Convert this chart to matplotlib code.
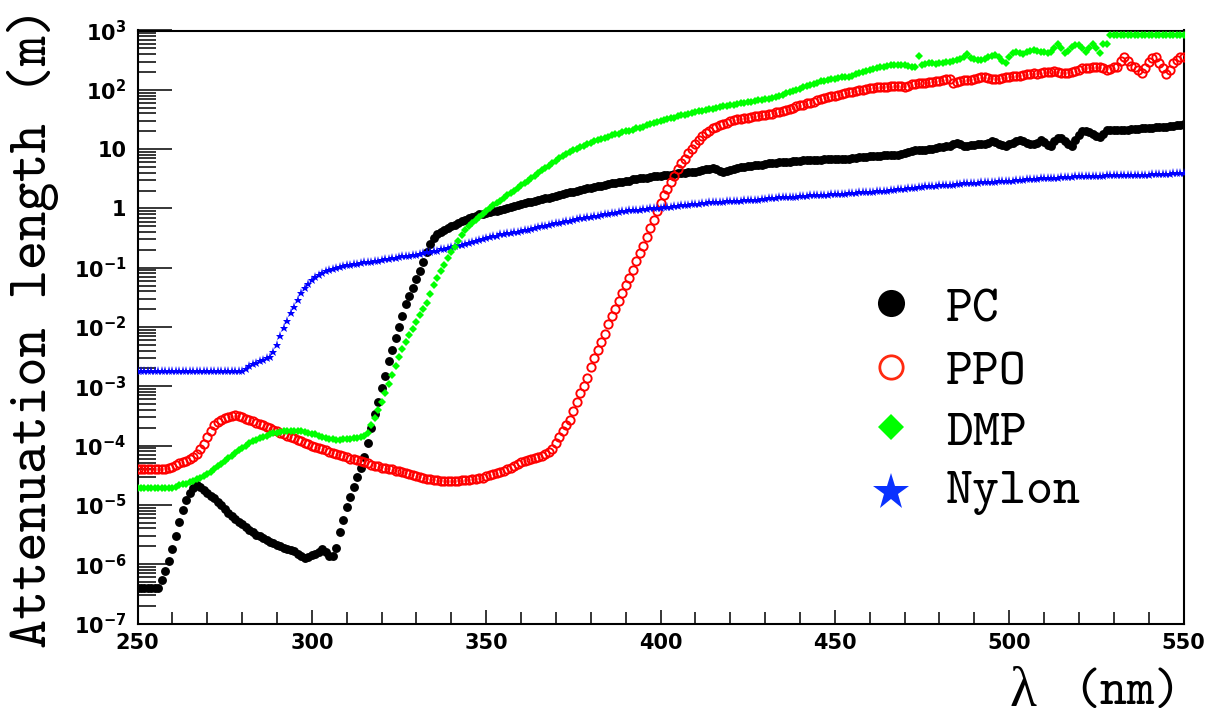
import numpy as np
import matplotlib
matplotlib.use("Agg")
import matplotlib.pyplot as plt
from matplotlib.lines import Line2D
from matplotlib.ticker import MultipleLocator, LogLocator, NullFormatter

# ---------------- data ----------------
WAVELENGTH_NM = list(range(250, 551))

# log10 of attenuation length in metres, one value per nm (250..550)
PC_LOG10 = [
    -6.40, -6.40, -6.40, -6.40, -6.40, -6.40, -6.40, -6.27, -6.12, -5.95,  # 250
    -5.75, -5.52, -5.29, -5.08, -4.92, -4.80, -4.71, -4.67, -4.70, -4.75,  # 260
    -4.80, -4.85, -4.89, -4.95, -5.01, -5.07, -5.13, -5.18, -5.23, -5.28,  # 270
    -5.33, -5.38, -5.42, -5.46, -5.50, -5.53, -5.56, -5.59, -5.62, -5.65,  # 280
    -5.68, -5.70, -5.72, -5.74, -5.76, -5.78, -5.82, -5.87, -5.89, -5.88,  # 290
    -5.85, -5.83, -5.80, -5.75, -5.80, -5.87, -5.86, -5.72, -5.45, -5.25,  # 300
    -5.03, -4.86, -4.69, -4.53, -4.38, -4.20, -3.95, -3.70, -3.47, -3.26,  # 310
    -3.03, -2.82, -2.58, -2.38, -2.18, -2.00, -1.82, -1.62, -1.47, -1.34,  # 320
    -1.19, -1.05, -0.90, -0.73, -0.60, -0.50, -0.44, -0.40, -0.37, -0.33,  # 330
    -0.30, -0.28, -0.25, -0.22, -0.19, -0.17, -0.14, -0.12, -0.10, -0.09,  # 340
    -0.07, -0.06, -0.05, -0.04, -0.03, -0.01, 0.01, 0.03, 0.04, 0.06,      # 350
    0.07, 0.09, 0.10, 0.11, 0.13, 0.14, 0.16, 0.17, 0.18, 0.19,            # 360
    0.21, 0.23, 0.24, 0.26, 0.27, 0.28, 0.30, 0.31, 0.32, 0.34,            # 370
    0.35, 0.36, 0.37, 0.38, 0.40, 0.41, 0.42, 0.43, 0.44, 0.45,            # 380
    0.46, 0.47, 0.49, 0.50, 0.51, 0.52, 0.52, 0.53, 0.54, 0.55,            # 390
    0.55, 0.56, 0.57, 0.57, 0.58, 0.59, 0.59, 0.60, 0.61, 0.62,            # 400
    0.62, 0.63, 0.64, 0.66, 0.67, 0.68, 0.66, 0.63, 0.62, 0.63,            # 410
    0.65, 0.67, 0.68, 0.69, 0.70, 0.71, 0.72, 0.73, 0.74, 0.74,            # 420
    0.75, 0.76, 0.76, 0.77, 0.78, 0.78, 0.79, 0.79, 0.80, 0.80,            # 430
    0.80, 0.81, 0.81, 0.81, 0.82, 0.82, 0.82, 0.83, 0.83, 0.83,            # 440
    0.83, 0.84, 0.84, 0.84, 0.84, 0.85, 0.85, 0.86, 0.86, 0.87,            # 450
    0.88, 0.88, 0.89, 0.89, 0.90, 0.90, 0.90, 0.90, 0.90, 0.91,            # 460
    0.93, 0.95, 0.97, 0.98, 0.98, 0.99, 0.99, 1.00, 1.01, 1.02,            # 470
    1.03, 1.04, 1.05, 1.05, 1.08, 1.10, 1.08, 1.06, 1.06, 1.07,            # 480
    1.07, 1.08, 1.08, 1.09, 1.11, 1.14, 1.12, 1.09, 1.07, 1.06,            # 490
    1.08, 1.11, 1.14, 1.15, 1.13, 1.11, 1.09, 1.08, 1.11, 1.15,            # 500
    1.12, 1.07, 1.06, 1.14, 1.19, 1.18, 1.14, 1.08, 1.05, 1.15,            # 510
    1.23, 1.30, 1.31, 1.28, 1.25, 1.22, 1.20, 1.26, 1.32, 1.32,            # 520
    1.32, 1.32, 1.33, 1.33, 1.33, 1.34, 1.34, 1.34, 1.35, 1.35,            # 530
    1.36, 1.36, 1.37, 1.37, 1.38, 1.38, 1.39, 1.39, 1.40, 1.41,            # 540
    1.42,                                                                  # 550
]

PPO_LOG10 = [
    -4.40, -4.40, -4.40, -4.40, -4.40, -4.40, -4.40, -4.40, -4.40, -4.38,  # 250
    -4.36, -4.33, -4.30, -4.28, -4.26, -4.23, -4.20, -4.15, -4.06, -3.97,  # 260
    -3.86, -3.75, -3.66, -3.60, -3.56, -3.53, -3.51, -3.50, -3.49, -3.50,  # 270
    -3.52, -3.55, -3.57, -3.59, -3.62, -3.64, -3.66, -3.69, -3.71, -3.73,  # 280
    -3.76, -3.78, -3.80, -3.83, -3.85, -3.87, -3.90, -3.92, -3.95, -3.97,  # 290
    -4.00, -4.02, -4.04, -4.06, -4.08, -4.10, -4.12, -4.14, -4.16, -4.18,  # 300
    -4.20, -4.22, -4.23, -4.25, -4.26, -4.28, -4.30, -4.32, -4.34, -4.35,  # 310
    -4.37, -4.38, -4.39, -4.40, -4.42, -4.43, -4.44, -4.46, -4.48, -4.50,  # 320
    -4.52, -4.53, -4.54, -4.56, -4.57, -4.58, -4.58, -4.59, -4.59, -4.59,  # 330
    -4.59, -4.59, -4.59, -4.58, -4.58, -4.58, -4.57, -4.56, -4.55, -4.54,  # 340
    -4.52, -4.50, -4.48, -4.46, -4.44, -4.42, -4.40, -4.37, -4.34, -4.31,  # 350
    -4.28, -4.26, -4.25, -4.23, -4.21, -4.19, -4.17, -4.15, -4.11, -4.05,  # 360
    -3.95, -3.86, -3.76, -3.66, -3.56, -3.42, -3.26, -3.12, -3.00, -2.86,  # 370
    -2.68, -2.53, -2.38, -2.26, -2.11, -1.95, -1.81, -1.69, -1.56, -1.43,  # 380
    -1.29, -1.17, -1.04, -0.89, -0.75, -0.63, -0.48, -0.33, -0.19, -0.05,  # 390
    0.09, 0.22, 0.33, 0.44, 0.55, 0.67, 0.76, 0.84, 0.93, 1.01,            # 400
    1.08, 1.15, 1.22, 1.27, 1.31, 1.35, 1.38, 1.40, 1.42, 1.44,            # 410
    1.47, 1.49, 1.50, 1.51, 1.52, 1.53, 1.54, 1.55, 1.56, 1.57,            # 420
    1.58, 1.59, 1.60, 1.62, 1.63, 1.64, 1.66, 1.68, 1.70, 1.72,            # 430
    1.74, 1.75, 1.77, 1.78, 1.80, 1.82, 1.84, 1.86, 1.88, 1.89,            # 440
    1.90, 1.92, 1.93, 1.95, 1.96, 1.97, 1.98, 1.99, 2.00, 2.02,            # 450
    2.03, 2.03, 2.04, 2.05, 2.05, 2.05, 2.06, 2.06, 2.06, 2.07,            # 460
    2.05, 2.07, 2.09, 2.10, 2.11, 2.12, 2.12, 2.13, 2.13, 2.14,            # 470
    2.15, 2.16, 2.18, 2.19, 2.11, 2.13, 2.15, 2.16, 2.16, 2.17,            # 480
    2.18, 2.20, 2.22, 2.21, 2.20, 2.19, 2.19, 2.19, 2.20, 2.21,            # 490
    2.22, 2.23, 2.23, 2.24, 2.25, 2.26, 2.27, 2.28, 2.27, 2.29,            # 500
    2.30, 2.30, 2.30, 2.31, 2.30, 2.29, 2.28, 2.28, 2.30, 2.32,            # 510
    2.34, 2.36, 2.36, 2.37, 2.38, 2.38, 2.39, 2.36, 2.33, 2.35,            # 520
    2.38, 2.39, 2.48, 2.56, 2.48, 2.40, 2.38, 2.33, 2.29, 2.36,            # 530
    2.47, 2.53, 2.56, 2.45, 2.36, 2.27, 2.34, 2.45, 2.51, 2.55,            # 540
    2.55,                                                                  # 550
]

DMP_LOG10 = [
    -4.71, -4.71, -4.71, -4.71, -4.71, -4.71, -4.71, -4.71, -4.71, -4.71,  # 250
    -4.71, -4.70, -4.67, -4.65, -4.64, -4.62, -4.60, -4.57, -4.55, -4.52,  # 260
    -4.48, -4.44, -4.40, -4.35, -4.31, -4.26, -4.21, -4.17, -4.13, -4.08,  # 270
    -4.04, -4.00, -3.96, -3.93, -3.90, -3.87, -3.85, -3.83, -3.81, -3.79,  # 280
    -3.78, -3.77, -3.76, -3.76, -3.75, -3.75, -3.75, -3.76, -3.77, -3.78,  # 290
    -3.80, -3.81, -3.83, -3.85, -3.87, -3.89, -3.89, -3.90, -3.90, -3.89,  # 300
    -3.89, -3.89, -3.88, -3.87, -3.86, -3.84, -3.78, -3.66, -3.53, -3.40,  # 310
    -3.27, -3.12, -2.96, -2.81, -2.66, -2.50, -2.37, -2.26, -2.14, -2.03,  # 320
    -1.92, -1.80, -1.69, -1.59, -1.44, -1.30, -1.17, -1.06, -0.95, -0.84,  # 330
    -0.74, -0.65, -0.55, -0.45, -0.37, -0.30, -0.24, -0.19, -0.14, -0.09,  # 340
    -0.05, 0.00, 0.05, 0.09, 0.13, 0.17, 0.22, 0.26, 0.30, 0.35,           # 350
    0.39, 0.43, 0.47, 0.51, 0.55, 0.59, 0.64, 0.68, 0.72, 0.76,            # 360
    0.80, 0.85, 0.89, 0.92, 0.95, 0.98, 1.01, 1.04, 1.06, 1.08,            # 370
    1.11, 1.13, 1.15, 1.17, 1.19, 1.21, 1.23, 1.25, 1.26, 1.28,            # 380
    1.30, 1.31, 1.33, 1.35, 1.36, 1.38, 1.40, 1.42, 1.44, 1.46,            # 390
    1.47, 1.49, 1.50, 1.52, 1.53, 1.55, 1.57, 1.58, 1.60, 1.61,            # 400
    1.63, 1.64, 1.65, 1.66, 1.67, 1.68, 1.70, 1.71, 1.72, 1.73,            # 410
    1.74, 1.75, 1.76, 1.77, 1.78, 1.79, 1.80, 1.81, 1.82, 1.83,            # 420
    1.84, 1.85, 1.87, 1.88, 1.90, 1.92, 1.94, 1.96, 1.98, 2.00,            # 430
    2.02, 2.04, 2.06, 2.08, 2.10, 2.12, 2.14, 2.15, 2.17, 2.18,            # 440
    2.19, 2.20, 2.21, 2.21, 2.22, 2.24, 2.26, 2.28, 2.30, 2.32,            # 450
    2.34, 2.35, 2.36, 2.38, 2.39, 2.40, 2.41, 2.41, 2.42, 2.42,            # 460
    2.41, 2.40, 2.39, 2.39, 2.57, 2.42, 2.44, 2.45, 2.45, 2.44,            # 470
    2.45, 2.46, 2.47, 2.47, 2.48, 2.50, 2.52, 2.55, 2.60, 2.54,            # 480
    2.52, 2.51, 2.50, 2.52, 2.55, 2.57, 2.59, 2.55, 2.48, 2.45,            # 490
    2.55, 2.62, 2.64, 2.62, 2.60, 2.63, 2.66, 2.67, 2.65, 2.64,            # 500
    2.63, 2.62, 2.64, 2.70, 2.78, 2.70, 2.62, 2.66, 2.72, 2.75,            # 510
    2.75, 2.70, 2.64, 2.70, 2.78, 2.70, 2.62, 2.78, 2.78, 2.92,            # 520
    2.93, 2.93, 2.93, 2.93, 2.93, 2.93, 2.93, 2.93, 2.93, 2.93,            # 530
    2.93, 2.93, 2.93, 2.93, 2.93, 2.93, 2.93, 2.93, 2.93, 2.93,            # 540
    2.93,                                                                  # 550
]

NYLON_LOG10 = [
    -2.74, -2.74, -2.74, -2.74, -2.74, -2.74, -2.74, -2.74, -2.74, -2.74,  # 250
    -2.74, -2.74, -2.74, -2.74, -2.74, -2.74, -2.74, -2.74, -2.74, -2.74,  # 260
    -2.74, -2.74, -2.74, -2.74, -2.74, -2.74, -2.74, -2.74, -2.74, -2.74,  # 270
    -2.74, -2.71, -2.66, -2.63, -2.60, -2.57, -2.55, -2.52, -2.50, -2.42,  # 280
    -2.30, -2.15, -2.02, -1.90, -1.77, -1.66, -1.54, -1.43, -1.35, -1.27,  # 290
    -1.21, -1.16, -1.12, -1.09, -1.06, -1.04, -1.02, -1.00, -0.99, -0.97,  # 300
    -0.96, -0.95, -0.94, -0.93, -0.92, -0.91, -0.91, -0.90, -0.89, -0.88,  # 310
    -0.87, -0.86, -0.85, -0.84, -0.83, -0.82, -0.81, -0.80, -0.80, -0.79,  # 320
    -0.78, -0.77, -0.76, -0.74, -0.73, -0.72, -0.71, -0.69, -0.68, -0.66,  # 330
    -0.65, -0.64, -0.62, -0.61, -0.60, -0.58, -0.56, -0.55, -0.53, -0.51,  # 340
    -0.50, -0.49, -0.47, -0.46, -0.44, -0.43, -0.42, -0.41, -0.40, -0.39,  # 350
    -0.38, -0.37, -0.36, -0.35, -0.33, -0.32, -0.30, -0.29, -0.28, -0.27,  # 360
    -0.25, -0.24, -0.23, -0.22, -0.21, -0.19, -0.18, -0.17, -0.16, -0.15,  # 370
    -0.14, -0.13, -0.12, -0.11, -0.10, -0.09, -0.08, -0.07, -0.06, -0.05,  # 380
    -0.04, -0.03, -0.03, -0.02, -0.02, -0.01, -0.01, 0.00, 0.00, 0.01,     # 390
    0.01, 0.02, 0.03, 0.03, 0.04, 0.04, 0.05, 0.06, 0.06, 0.07,            # 400
    0.08, 0.08, 0.09, 0.09, 0.10, 0.10, 0.10, 0.11, 0.11, 0.12,            # 410
    0.12, 0.13, 0.13, 0.13, 0.14, 0.14, 0.15, 0.15, 0.15, 0.16,            # 420
    0.16, 0.17, 0.17, 0.18, 0.19, 0.19, 0.19, 0.20, 0.20, 0.20,            # 430
    0.21, 0.21, 0.21, 0.22, 0.22, 0.22, 0.23, 0.23, 0.23, 0.24,            # 440
    0.24, 0.25, 0.25, 0.25, 0.26, 0.26, 0.26, 0.27, 0.27, 0.28,            # 450
    0.28, 0.28, 0.29, 0.29, 0.30, 0.30, 0.31, 0.31, 0.32, 0.32,            # 460
    0.33, 0.34, 0.34, 0.35, 0.36, 0.36, 0.37, 0.37, 0.38, 0.38,            # 470
    0.39, 0.39, 0.40, 0.40, 0.40, 0.41, 0.41, 0.42, 0.42, 0.42,            # 480
    0.43, 0.43, 0.44, 0.44, 0.44, 0.45, 0.45, 0.46, 0.46, 0.46,            # 490
    0.47, 0.47, 0.48, 0.48, 0.48, 0.49, 0.49, 0.50, 0.50, 0.51,            # 500
    0.51, 0.52, 0.52, 0.52, 0.52, 0.53, 0.53, 0.53, 0.53, 0.54,            # 510
    0.54, 0.54, 0.54, 0.55, 0.55, 0.55, 0.55, 0.55, 0.56, 0.56,            # 520
    0.56, 0.56, 0.56, 0.56, 0.57, 0.57, 0.57, 0.57, 0.57, 0.57,            # 530
    0.57, 0.58, 0.58, 0.58, 0.58, 0.58, 0.58, 0.59, 0.59, 0.59,            # 540
    0.59,                                                                  # 550
]

SERIES_NAMES = ["PC", "PPO", "DMP", "Nylon"]
X_TICKS = [250, 300, 350, 400, 450, 500, 550]
Y_TICK_EXPONENTS = [-7, -6, -5, -4, -3, -2, -1, 0, 1, 2, 3]

for arr in (PC_LOG10, PPO_LOG10, DMP_LOG10, NYLON_LOG10):
    assert len(arr) == len(WAVELENGTH_NM), len(arr)

# ---------------- figure ----------------
plt.rcParams["mathtext.fontset"] = "dejavusans"
plt.rcParams["mathtext.default"] = "bf"

TITLE_FONT = ["cmtt10", "Liberation Mono", "DejaVu Sans Mono"]

W, H = 1209, 724
fig = plt.figure(figsize=(W / 100, H / 100), dpi=100)
fig.patch.set_facecolor("white")

ax_l, ax_r, ax_t, ax_b = 137.5, 1183.5, 30.5, 623.5
ax = fig.add_axes([ax_l / W, 1 - ax_b / H, (ax_r - ax_l) / W, (ax_b - ax_t) / H])

lam = np.array(WAVELENGTH_NM, dtype=float)
pc = 10.0 ** np.array(PC_LOG10)
ppo = 10.0 ** np.array(PPO_LOG10)
dmp = 10.0 ** np.array(DMP_LOG10)
nylon = 10.0 ** np.array(NYLON_LOG10)

ax.plot(lam, pc, ls="none", marker="o", ms=6.4, mfc="black", mec="black", mew=0.0, zorder=3)
ax.plot(lam, ppo, ls="none", marker="o", ms=6.0, mfc="none", mec="#ff0000", mew=1.35, zorder=4)
ax.plot(lam, nylon, ls="none", marker="*", ms=6.6, mfc="#0000ff", mec="#0000ff", mew=0.0, zorder=5)
ax.plot(lam, dmp, ls="none", marker="D", ms=3.8, mfc="#00ff00", mec="#00ff00", mew=0.0, zorder=6)

ax.set_xlim(250, 550)
ax.set_yscale("log")
ax.set_ylim(1e-7, 1e3)

ax.set_xticks(X_TICKS)
ax.set_xticklabels([str(v) for v in X_TICKS])
ax.xaxis.set_minor_locator(MultipleLocator(10))

def ylab(e):
    if e == 0:
        return "1"
    if e == 1:
        return "10"
    return r"$\mathbf{10^{%d}}$" % e

ax.set_yticks([10.0 ** e for e in Y_TICK_EXPONENTS])
ax.set_yticklabels([ylab(e) for e in Y_TICK_EXPONENTS])
ax.yaxis.set_minor_locator(LogLocator(base=10, subs=np.arange(2, 10), numticks=30))
ax.yaxis.set_minor_formatter(NullFormatter())

for lab in ax.get_xticklabels() + ax.get_yticklabels():
    lab.set_fontfamily("DejaVu Sans")
    lab.set_fontweight("bold")
    lab.set_fontsize(15)

ax.tick_params(axis="both", which="both", direction="in", top=False, right=False,
               width=1.1, colors="black")
ax.tick_params(axis="x", which="major", length=10, pad=7)
ax.tick_params(axis="x", which="minor", length=8.6)
ax.tick_params(axis="y", which="major", length=24.5, pad=8)
ax.tick_params(axis="y", which="minor", length=13)
for s in ax.spines.values():
    s.set_linewidth(1.5)

# axis titles
fig.text(33 / W, 1 - 327 / H, "Attenuation length (m)", rotation=90,
         family=TITLE_FONT, fontsize=40, ha="center", va="center")
fig.text(1181 / W, 1 - 694 / H, "(nm)", family=TITLE_FONT, fontsize=37,
         ha="right", va="center")
fig.text(1023 / W, 1 - 692 / H, "λ", family="Liberation Serif", fontsize=40,
         ha="center", va="center")

# legend (manual, ROOT-like)
leg_marker_x = 891
leg_text_x = 946
leg_marker_y = [303, 367, 427, 492]
leg_baseline_y = [322, 385, 445, 503]
leg_styles = [
    dict(marker="o", ms=19.5, mfc="black", mec="black", mew=0),
    dict(marker="o", ms=16.8, mfc="none", mec="#ff2a10", mew=2.0),
    dict(marker="D", ms=13.2, mfc="#00ff00", mec="#00ff00", mew=0),
    dict(marker="*", ms=28, mfc="#0a32ff", mec="#0a32ff", mew=0),
]
for name, my, by, st in zip(SERIES_NAMES, leg_marker_y, leg_baseline_y, leg_styles):
    fig.add_artist(Line2D([leg_marker_x / W], [1 - my / H], transform=fig.transFigure,
                          ls="none", **st))
    fig.text(leg_text_x / W, 1 - by / H, name, family=TITLE_FONT, fontsize=37,
             ha="left", va="baseline")

fig.savefig("out.png", dpi=100, facecolor="white")
